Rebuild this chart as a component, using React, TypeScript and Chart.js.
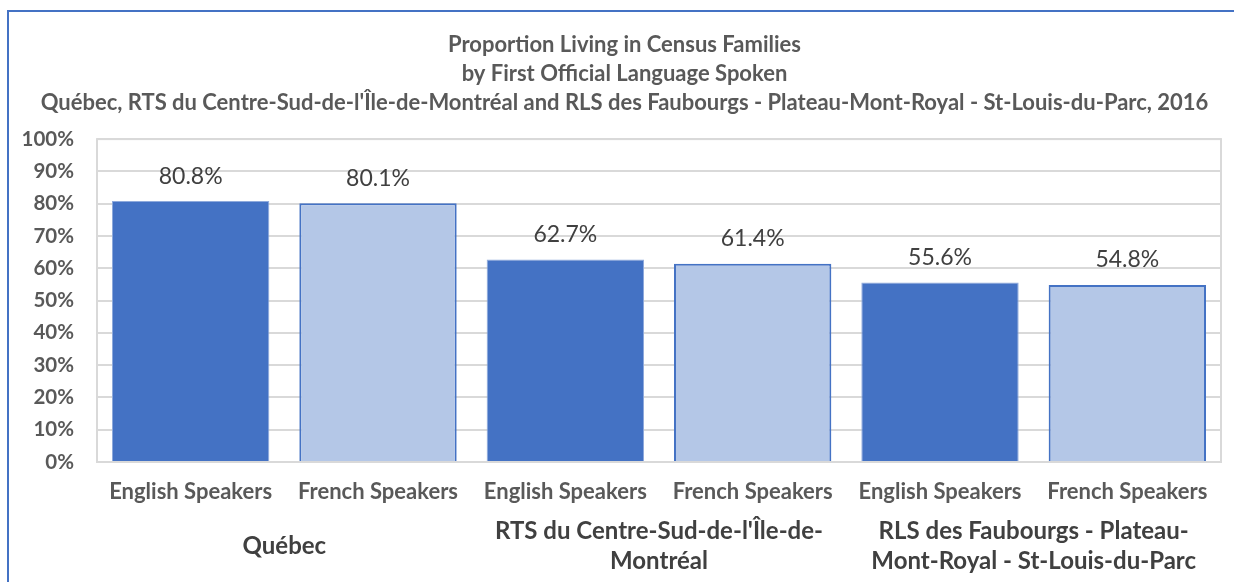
import React, { useEffect, useRef } from "react";
import { Chart, registerables } from "chart.js";

Chart.register(...registerables);

const titleLines = [
  "Proportion Living in Census Families",
  "by First Official Language Spoken",
  "Québec, RTS du Centre-Sud-de-l'Île-de-Montréal and RLS des Faubourgs - Plateau-Mont-Royal - St-Louis-du-Parc, 2016",
];
const subCategories = [
  "English Speakers",
  "French Speakers",
  "English Speakers",
  "French Speakers",
  "English Speakers",
  "French Speakers",
];
const groupLabels: (string | string[])[] = [
  "Québec",
  ["RTS du Centre-Sud-de-l'Île-de-", "Montréal"],
  ["RLS des Faubourgs - Plateau-", "Mont-Royal - St-Louis-du-Parc"],
];
const values = [80.8, 80.1, 62.7, 61.4, 55.6, 54.8];
const yTicks = [0, 10, 20, 30, 40, 50, 60, 70, 80, 90, 100];

const DARK = "#4472C4";
const LIGHT = "#B4C7E7";
const FONT = "Lato, 'Open Sans', sans-serif";

const dataLabelPlugin = {
  id: "dataLabels",
  afterDatasetsDraw(chart: any) {
    const ctx = chart.ctx;
    const meta = chart.getDatasetMeta(0);
    ctx.save();
    ctx.font = `400 23px ${FONT}`;
    ctx.fillStyle = "#404040";
    ctx.textAlign = "center";
    ctx.textBaseline = "middle";
    meta.data.forEach((el: any, i: number) => {
      ctx.fillText(values[i].toFixed(1) + "%", el.x, el.y - 25);
    });
    ctx.restore();
  },
};

const plotBorderPlugin = {
  id: "plotBorder",
  beforeDatasetsDraw(chart: any) {
    const { ctx, chartArea } = chart;
    ctx.save();
    ctx.strokeStyle = "#D9D9D9";
    ctx.lineWidth = 2;
    ctx.strokeRect(chartArea.left, chartArea.top, chartArea.right - chartArea.left, chartArea.bottom - chartArea.top);
    ctx.restore();
  },
};

export default function App() {
  const ref = useRef<HTMLCanvasElement | null>(null);
  useEffect(() => {
    document.body.style.margin = "0";
    if (!ref.current) return;
    const chart = new Chart(ref.current, {
      type: "bar",
      data: {
        labels: subCategories,
        datasets: [
          {
            data: values,
            backgroundColor: values.map((_, i) => (i % 2 === 0 ? DARK : LIGHT)),
            borderColor: values.map((_, i) => (i % 2 === 0 ? "#8FAADC" : DARK)),
            borderWidth: values.map((_, i) => (i % 2 === 0 ? 1 : 2)),
            categoryPercentage: 1,
            barPercentage: 0.84,
          },
        ],
      },
      options: {
        animation: false,
        responsive: true,
        maintainAspectRatio: false,
        layout: { padding: { left: 15, right: 0, top: 0, bottom: 0 } },
        plugins: {
          legend: { display: false },
          tooltip: { enabled: false },
          title: {
            display: true,
            text: titleLines,
            color: "#595959",
            font: { family: FONT, size: 22, weight: "bold", lineHeight: 1.32 },
            padding: { top: 30, bottom: 22 },
          },
        },
        scales: {
          y: {
            min: 0,
            max: 100,
            afterFit: (s: any) => {
              s.width = 82;
            },
            afterBuildTicks: (s: any) => {
              s.ticks = yTicks.map((v) => ({ value: v }));
            },
            ticks: {
              callback: (v: any) => v + "%",
              color: "#595959",
              font: { family: FONT, size: 20.5, weight: "bold" },
              padding: 23,
            },
            grid: { color: "#D9D9D9", lineWidth: 2, drawTicks: false },
            border: { display: false },
          },
          yRight: {
            position: "right",
            min: 0,
            max: 100,
            afterFit: (s: any) => {
              s.width = 13;
            },
            ticks: { display: false },
            grid: { display: false, drawTicks: false },
            border: { display: false },
          },
          x: {
            position: "bottom",
            afterFit: (s: any) => {
              s.height = 48;
            },
            ticks: {
              color: "#595959",
              font: { family: FONT, size: 22, weight: "bold", lineHeight: 1.2 },
              padding: 17,
              maxRotation: 0,
              minRotation: 0,
              autoSkip: false,
            },
            grid: { display: false, drawTicks: false },
            border: { display: false },
          },
          x2: {
            type: "category",
            position: "bottom",
            labels: groupLabels as any,
            offset: true,
            afterFit: (s: any) => {
              s.height = 72;
            },
            ticks: {
              color: "#404040",
              font: { family: FONT, size: 24, weight: "bold", lineHeight: 1.25 },
              padding: 21,
              maxRotation: 0,
              minRotation: 0,
              autoSkip: false,
              crossAlign: "center",
            },
            grid: { display: false, drawTicks: false },
            border: { display: false },
          },
        },
      } as any,
      plugins: [plotBorderPlugin, dataLabelPlugin],
    });
    return () => chart.destroy();
  }, []);

  return (
    <div style={{ position: "fixed", left: 0, top: 0, width: 1234, height: 582, overflow: "hidden", background: "#fff" }}>
      <div
        style={{
          position: "absolute",
          left: 7,
          top: 10,
          width: 1300,
          height: 700,
          borderLeft: "2px solid #4472C4",
          borderTop: "2px solid #4472C4",
          boxSizing: "border-box",
        }}
      />
      <div style={{ position: "absolute", left: 0, top: 0, width: 1234, height: 582 }}>
        <canvas ref={ref} />
      </div>
    </div>
  );
}
